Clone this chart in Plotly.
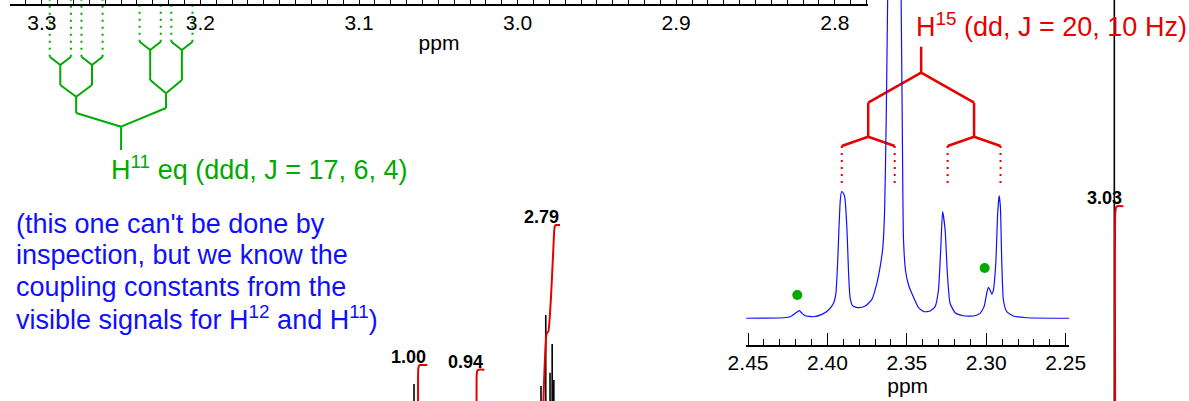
import plotly.graph_objects as go

# ---------------- data ----------------
SPEC_MHZ = 300  # spectrometer frequency, used to turn J (Hz) into ppm

# H11 eq multiplet on the expanded scale
h11_shift = 3.250
h11_J = [17, 6, 4]

# H15 multiplet shown in the inset
h15_shift = 2.341
h15_J = [20, 10]

# inset trace (ppm, relative intensity; 2.391 line = 1)
inset_ppm = [2.4511, 2.4276, 2.4234, 2.4203, 2.4177, 2.4160, 2.4140, 2.4087, 2.4035, 2.3993,
             2.3962, 2.3947, 2.3936, 2.3928, 2.3919, 2.3911, 2.3899, 2.3890, 2.3877, 2.3867,
             2.3857, 2.3840, 2.3804, 2.3762, 2.3720, 2.3689, 2.3668, 2.3651, 2.3640, 2.3630,
             2.3621, 2.3611, 2.3596, 2.3578, 2.3558, 2.3543, 2.3536, 2.3529, 2.3521, 2.3507,
             2.3489, 2.3467, 2.3427, 2.3391, 2.3353, 2.3322, 2.3301, 2.3286, 2.3275, 2.3259,
             2.3245, 2.3228, 2.3196, 2.3144, 2.3081, 2.3039, 2.3014, 2.2997, 2.2987, 2.2976,
             2.2965, 2.2955, 2.2940, 2.2928, 2.2919, 2.2911, 2.2902, 2.2892, 2.2871, 2.2830,
             2.2745, 2.2477]
inset_int = [-0.002, 0.002, 0.010, 0.037, 0.058, 0.037, 0.018, 0.010, 0.029, 0.063,
             0.117, 0.196, 0.434, 0.698, 0.937, 1.002, 0.990, 0.950, 0.698, 0.355,
             0.156, 0.095, 0.082, 0.095, 0.148, 0.275, 0.407, 0.566, 0.857, 1.571,
             2.524, 3.476, 5.063, 6.095, 5.063, 3.476, 2.524, 1.571, 0.619, 0.365,
             0.262, 0.190, 0.083, 0.050, 0.056, 0.090, 0.222, 0.566, 0.844, 0.698,
             0.355, 0.117, 0.042, 0.018, 0.016, 0.037, 0.090, 0.196, 0.244, 0.222,
             0.190, 0.222, 0.434, 0.831, 0.971, 0.883, 0.434, 0.143, 0.050, 0.016,
             0.002, -0.002]

# impurity markers in the inset
impurity_ppm = [2.419, 2.301]
impurity_int = [0.183, 0.397]

# full spectrum lines (ppm, intensity in integral units)
full_peak_ppm = [3.259, 2.725, 2.705, 2.687, 2.678, 2.671, 0.314]
full_peak_int = [0.757, 0.731, 1.639, 0.902, 1.269, 0.808, 8.0]

# integrals: value and cumulative curve
integral_values = [1.00, 0.94, 2.79, 3.03]
integral_ppm = [
    [3.241, 3.241, 3.238, 3.233, 3.203],
    [2.995, 2.995, 2.992, 2.987, 2.963],
    [2.7195, 2.7010, 2.6943, 2.6829, 2.6733, 2.6674, 2.6619, 2.6451],
    [0.310, 0.310, 0.307, 0.302, 0.276],
]
integral_curve = [
    [0.0, 0.95, 0.99, 1.00, 1.00],
    [0.0, 0.89, 0.93, 0.94, 0.94],
    [0.0, 1.405, 1.426, 1.873, 2.471, 2.769, 2.79, 2.79],
    [0.0, 2.94, 3.01, 3.03, 3.03],
]

note_lines = [
    "(this one can't be done by",
    "inspection, but we know the",
    "coupling constants from the",
    "visible signals for H<sup>12</sup> and H<sup>11</sup>)",
]

# ---------------- styling / layout ----------------
W, H = 1189, 401
FONT = "Liberation Sans, Arial, sans-serif"
GREEN = "#00aa00"
RED = "#e60000"
BLUE = "#0f0fff"


def fx(px):
    return px / W


def fy(py):
    return 1 - py / H


def split_tree(center, Js, mhz, stem, rows, leaf_end):
    """Splitting tree: solid branches plus dotted leaders from each final line."""
    sx, sy, dx, dy = [], [], [], []

    def seg(xs, ys, a, b):
        xs.extend([a[0], b[0], None])
        ys.extend([a[1], b[1], None])

    seg(sx, sy, (center, stem[0]), (center, stem[1]))

    def grow(x, row, level, side):
        if level == len(Js):
            seg(dx, dy, (x, row), (x, leaf_end))
            return
        half = Js[level] / 2 / mhz
        for sgn in (1, -1):
            s = side if side is not None else ("L" if sgn > 0 else "R")
            roof, top = rows[s][level]
            cx = x + sgn * half
            seg(sx, sy, (x, row), (cx, roof))
            nxt = roof
            if top is not None:
                seg(sx, sy, (cx, roof), (cx, top))
                nxt = top
            grow(cx, nxt, level + 1, s)

    grow(center, stem[1], 0, None)
    return sx, sy, dx, dy


fig = go.Figure()

# full spectrum lines
fx_, fy_ = [], []
for p, h in zip(full_peak_ppm, full_peak_int):
    fx_ += [p, p, None]
    fy_ += [0.0, h, None]
fig.add_trace(go.Scatter(x=fx_, y=fy_, mode="lines", xaxis="x", yaxis="y",
                         line=dict(color="black", width=1.6), hoverinfo="skip"))

# integral curves and their values
for xs, ys in zip(integral_ppm, integral_curve):
    fig.add_trace(go.Scatter(x=xs, y=ys, mode="lines", xaxis="x", yaxis="y",
                             line=dict(color=RED, width=2, shape="spline", smoothing=0.5),
                             hoverinfo="skip"))

# inset spectrum
fig.add_trace(go.Scatter(x=inset_ppm, y=inset_int, mode="lines", xaxis="x3", yaxis="y3",
                         line=dict(color=BLUE, width=1.2, shape="spline", smoothing=0.5),
                         hoverinfo="skip"))
fig.add_trace(go.Scatter(x=impurity_ppm, y=impurity_int, mode="markers", xaxis="x3", yaxis="y3",
                         marker=dict(color=GREEN, size=10), hoverinfo="skip"))

# H11 eq tree (grows up towards the expanded ppm scale)
g_rows = {"L": [(113, 96.7), (85, 65), (56.7, None)],
          "R": [(108, 93.3), (80, 50), (41.7, None)]}
gx, gy, gdx, gdy = split_tree(h11_shift, h11_J, SPEC_MHZ, (150, 126.7), g_rows, 0)
fig.add_trace(go.Scatter(x=gx, y=gy, mode="lines", xaxis="x2", yaxis="y2",
                         line=dict(color=GREEN, width=2), hoverinfo="skip"))
fig.add_trace(go.Scatter(x=gdx, y=gdy, mode="lines", xaxis="x2", yaxis="y2",
                         line=dict(color=GREEN, width=2, dash="2px,5px"), hoverinfo="skip"))

# H15 tree (grows down onto the inset lines)
r_rows = {"L": [(102.7, 136.7), (146, None)],
          "R": [(102.7, 136.7), (146, None)]}
rx, ry, rdx, rdy = split_tree(h15_shift, h15_J, SPEC_MHZ, (46.7, 72.7), r_rows, 185)
fig.add_trace(go.Scatter(x=rx, y=ry, mode="lines", xaxis="x3", yaxis="y2",
                         line=dict(color=RED, width=2.5), hoverinfo="skip"))
fig.add_trace(go.Scatter(x=rdx, y=rdy, mode="lines", xaxis="x3", yaxis="y2",
                         line=dict(color=RED, width=2, dash="2px,5px"), hoverinfo="skip"))

annotations = []
# integral values above each curve's end
for v, xs, ys in zip(integral_values, integral_ppm, integral_curve):
    annotations.append(dict(x=xs[-1], y=ys[-1], xref="x", yref="y", text=f"<b>{v:.2f}</b>",
                            showarrow=False, xanchor="center", yanchor="middle",
                            xshift=-19, yshift=8, font=dict(family=FONT, size=18, color="black")))

j11 = ", ".join(str(j) for j in h11_J)
annotations.append(dict(x=fx(109), y=fy(168), xref="paper", yref="paper",
                        text=f"H<sup>11</sup> eq (ddd, J = {j11})", showarrow=False,
                        xanchor="left", yanchor="middle",
                        font=dict(family=FONT, size=27, color=GREEN)))
j15 = ", ".join(str(j) for j in h15_J)
annotations.append(dict(x=fx(914), y=fy(25), xref="paper", yref="paper",
                        text=f"H<sup>15</sup> (dd, J = {j15} Hz)", showarrow=False,
                        xanchor="left", yanchor="middle",
                        font=dict(family=FONT, size=27, color=RED)))
for i, line in enumerate(note_lines):
    annotations.append(dict(x=fx(14), y=fy(223.6 + 31.5 * i), xref="paper", yref="paper",
                            text=line, showarrow=False, xanchor="left", yanchor="middle",
                            font=dict(family=FONT, size=27, color=BLUE)))

tickfont = dict(family=FONT, size=21, color="black")

fig.update_layout(
    template="none",
    width=W, height=H, autosize=False,
    margin=dict(l=0, r=0, t=0, b=0, pad=0, autoexpand=False),
    paper_bgcolor="white", plot_bgcolor="rgba(0,0,0,0)",
    showlegend=False,
    annotations=annotations,
    xaxis=dict(domain=[0, 1], range=[5.0, 0.0], visible=False, anchor="y", automargin=False),
    yaxis=dict(domain=[0, 1], range=[0.5396, 5.6675], visible=False, anchor="x", automargin=False),
    xaxis2=dict(domain=[fx(10), fx(868)], range=[3.32005, 2.77907], anchor="free",
                position=fy(5), side="bottom", showline=True, linecolor="black", linewidth=2,
                ticks="inside", ticklen=8, tickwidth=1, tickcolor="black",
                dtick=0.1, tick0=0, tickformat=".1f", tickfont=tickfont,
                ticklabelstandoff=-1,
                minor=dict(dtick=0.01, ticks="inside", ticklen=8, tickwidth=1, tickcolor="black"),
                showgrid=False, zeroline=False, automargin=False,
                title=dict(text="ppm", font=tickfont, standoff=1)),
    yaxis2=dict(domain=[0, 1], range=[H, 0], visible=False, anchor="x2", automargin=False),
    xaxis3=dict(domain=[fx(746), fx(1069.3)], range=[2.4513, 2.2477], anchor="y3",
                showline=True, linecolor="black", linewidth=2,
                ticks="inside", ticklen=12, tickwidth=1, tickcolor="black",
                dtick=0.05, tick0=0, tickformat=".2f", tickfont=tickfont,
                ticklabelstandoff=-2,
                minor=dict(dtick=0.01, ticks="inside", ticklen=6, tickwidth=1, tickcolor="black"),
                showgrid=False, zeroline=False, automargin=False,
                title=dict(text="ppm", font=tickfont, standoff=0)),
    yaxis3=dict(domain=[fy(344.5), 1], range=[-0.2103, 2.5238], visible=False, anchor="x3",
                automargin=False),
)

fig.write_html("out.html")
